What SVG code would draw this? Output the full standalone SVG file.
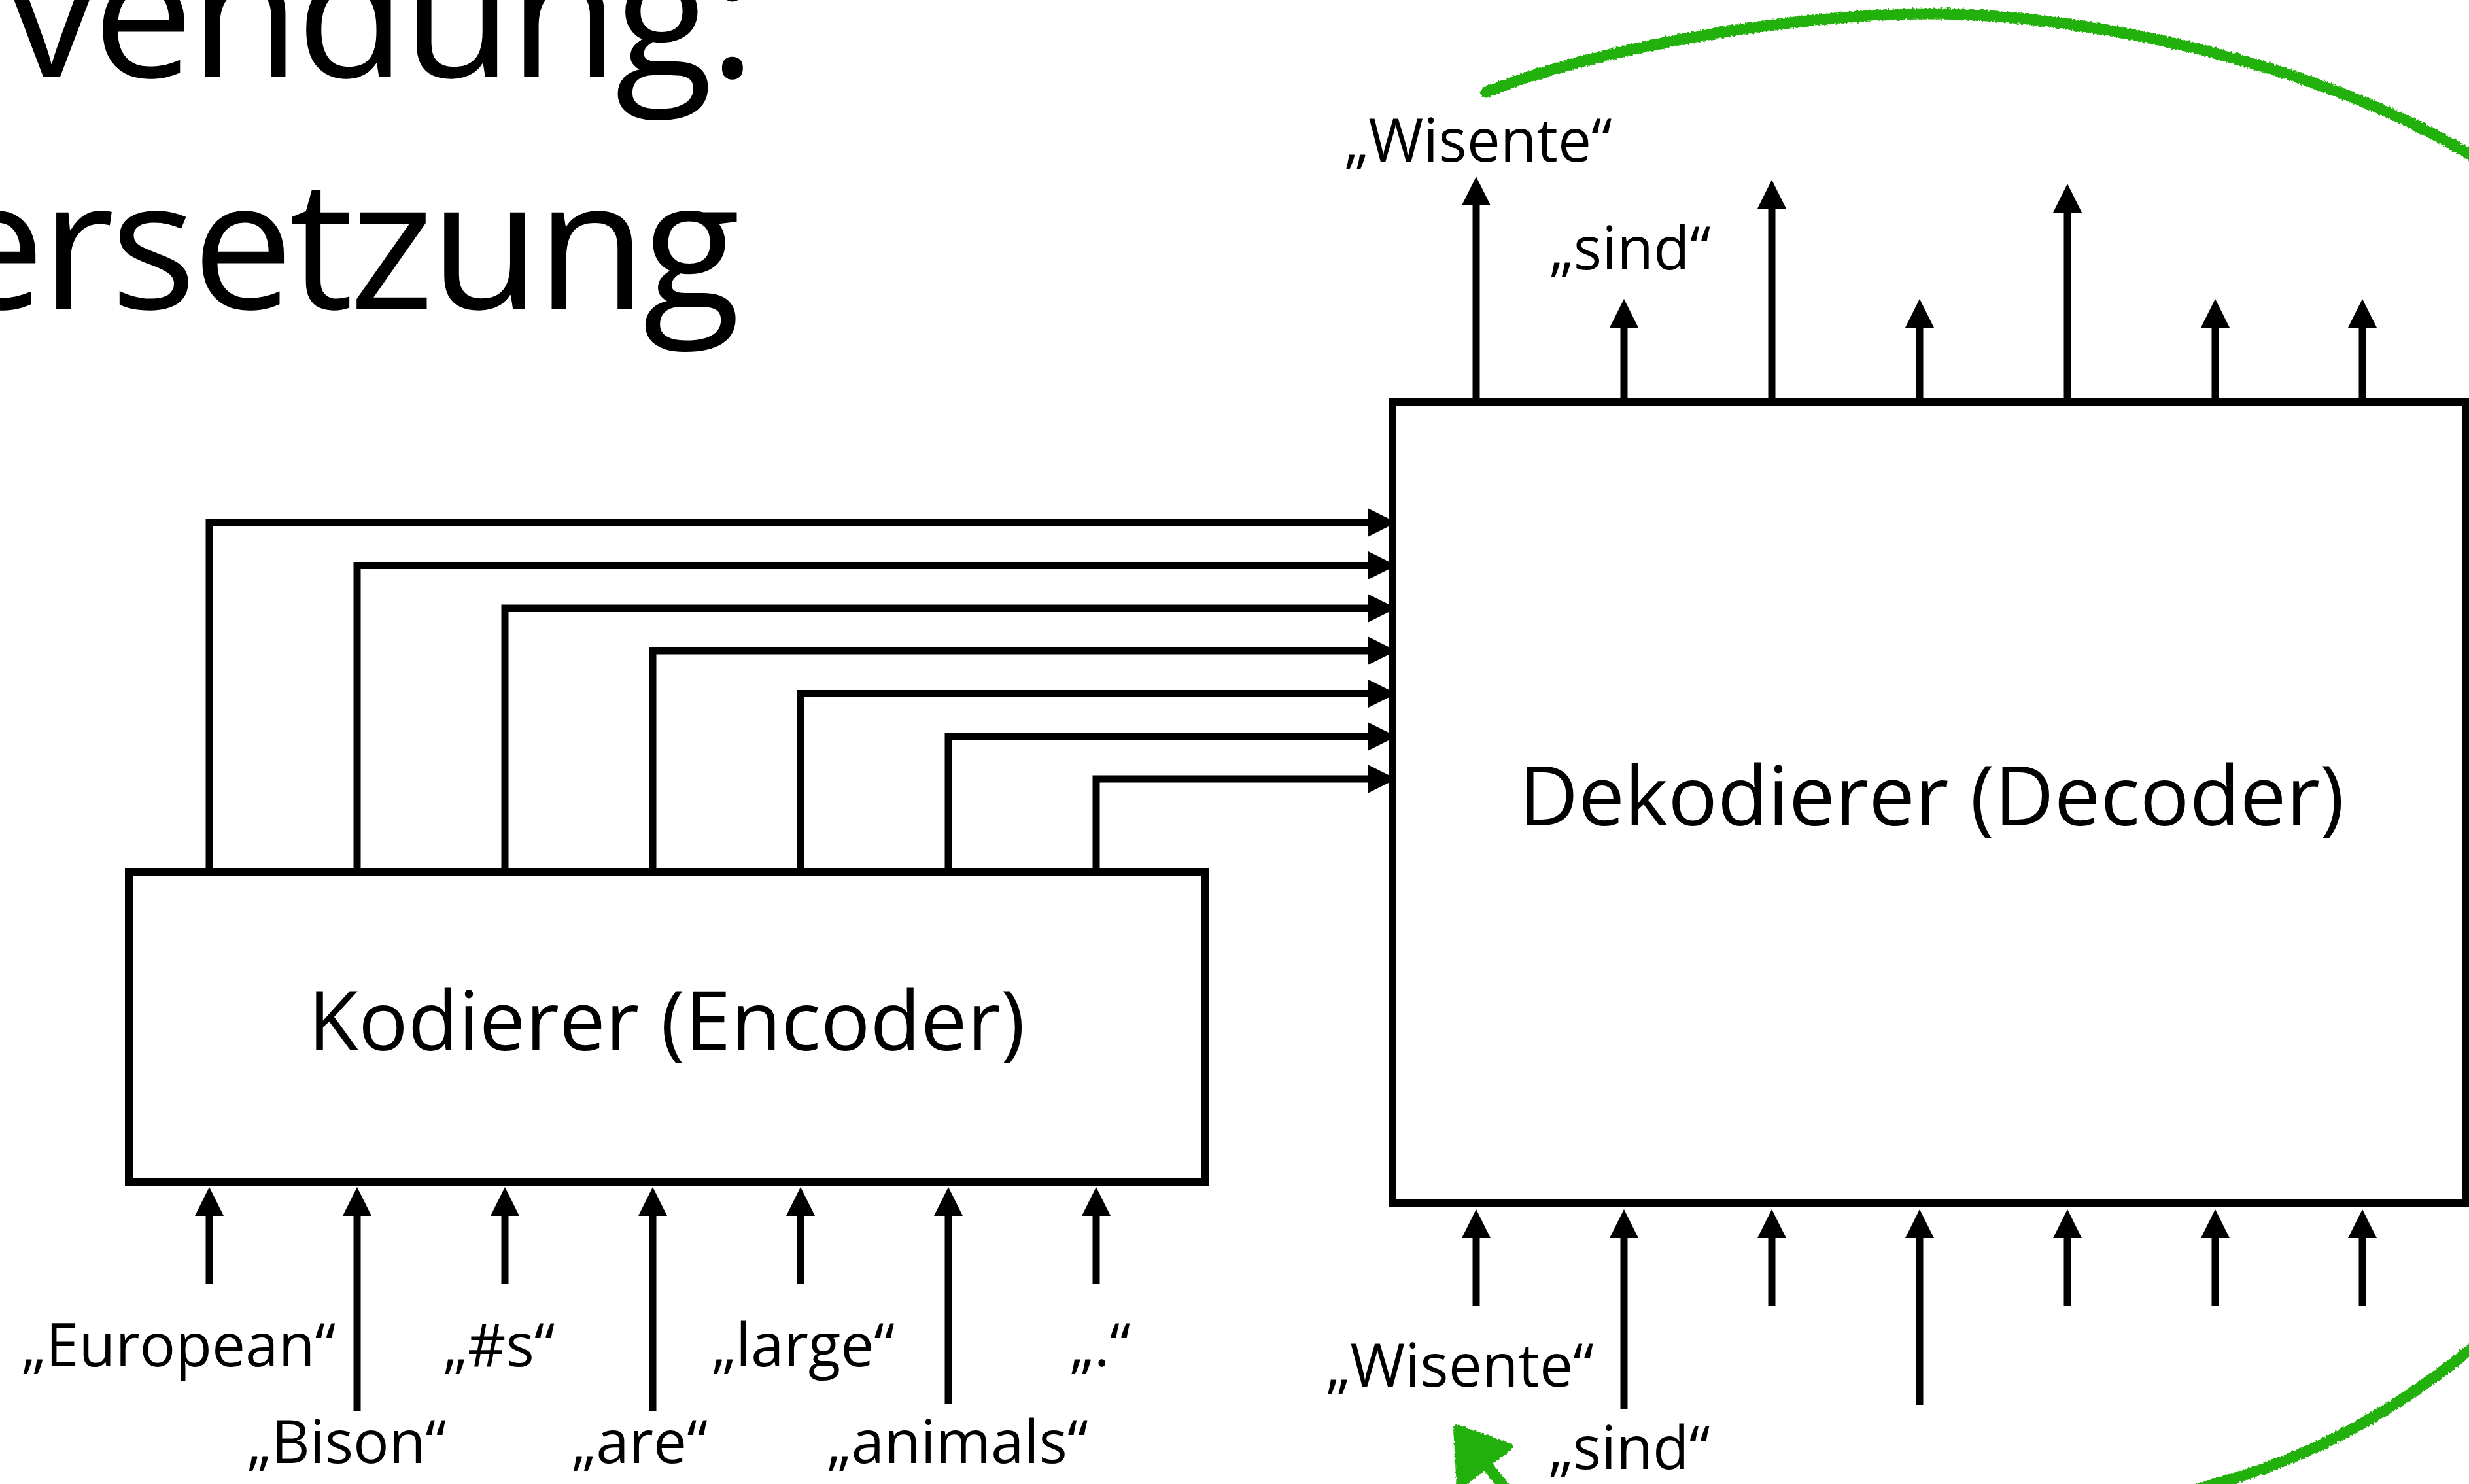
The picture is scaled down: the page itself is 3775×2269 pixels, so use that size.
<svg xmlns="http://www.w3.org/2000/svg" width="3775" height="2269" viewBox="0 0 3775 2269">
  <style>
    text { font-family: "Open Sans", "Noto Sans", sans-serif; fill: #000; }
    .title { font-size: 275px; letter-spacing: -6px; }
    .box { fill: #fff; stroke: #000; stroke-width: 12; }
    .boxlabel { font-size: 126px; text-anchor: middle; }
    .lbl { font-size: 91px; text-anchor: middle; }
    .wire { fill: none; stroke: #000; stroke-width: 11; stroke-linejoin: miter; marker-end: url(#ah); }
    .green { fill: none; stroke: #24b00a; stroke-width: 17; stroke-linecap: round; }
  </style>
  <defs>
    <marker id="ah" markerUnits="userSpaceOnUse" markerWidth="44" markerHeight="44" viewBox="0 0 44 44" refX="1" refY="22" orient="auto">
      <path d="M0,0 L44,22 L0,44 Z" fill="#000"/>
    </marker>
    <filter id="crayon" filterUnits="userSpaceOnUse" x="1900" y="-200" width="2200" height="2700">
      <feTurbulence type="fractalNoise" baseFrequency="0.3" numOctaves="2" seed="3" result="n"/>
      <feDisplacementMap in="SourceGraphic" in2="n" scale="6" xChannelSelector="R" yChannelSelector="G"/>
    </filter>
  </defs>

  <rect width="3775" height="2269" fill="#fff"/>

  <g id="title">
    <text class="title" x="1150" y="118" text-anchor="end">vendung:</text>
    <text class="title" x="1126" y="472" text-anchor="end">ersetzung</text>
  </g>

  <g id="encoder">
    <rect class="box" x="197" y="1333" width="1645" height="474"/>
    <text class="boxlabel" x="1019" y="1606">Kodierer (Encoder)</text>
  </g>

  <g id="decoder">
    <rect class="box" x="2129" y="614" width="1642" height="1226"/>
    <text class="boxlabel" x="2953" y="1262">Dekodierer (Decoder)</text>
  </g>

  <g id="connectors">
    <!-- encoder outputs to decoder -->
    <path class="wire" d="M320 1333 V799 H2092"/>
    <path class="wire" d="M546 1333 V864.5 H2092"/>
    <path class="wire" d="M772 1333 V930 H2092"/>
    <path class="wire" d="M998 1333 V995 H2092"/>
    <path class="wire" d="M1224 1333 V1060.5 H2092"/>
    <path class="wire" d="M1450 1333 V1126 H2092"/>
    <path class="wire" d="M1676 1333 V1191 H2092"/>
    <!-- encoder inputs -->
    <path class="wire" d="M320 1963 V1858"/>
    <path class="wire" d="M546 2157 V1858"/>
    <path class="wire" d="M772 1963 V1858"/>
    <path class="wire" d="M998 2157 V1858"/>
    <path class="wire" d="M1224 1963 V1858"/>
    <path class="wire" d="M1450 2147 V1858"/>
    <path class="wire" d="M1676 1963 V1858"/>
    <!-- decoder inputs -->
    <path class="wire" d="M2257 1997 V1892"/>
    <path class="wire" d="M2483 2154 V1892"/>
    <path class="wire" d="M2709 1997 V1892"/>
    <path class="wire" d="M2935 2148 V1892"/>
    <path class="wire" d="M3161 1997 V1892"/>
    <path class="wire" d="M3387 1997 V1892"/>
    <path class="wire" d="M3612 1997 V1892"/>
    <!-- decoder outputs -->
    <path class="wire" d="M2257 608 V313"/>
    <path class="wire" d="M2483 608 V500"/>
    <path class="wire" d="M2709 608 V318"/>
    <path class="wire" d="M2935 608 V500"/>
    <path class="wire" d="M3161 608 V324"/>
    <path class="wire" d="M3387 608 V500"/>
    <path class="wire" d="M3612 608 V500"/>
  </g>

  <g id="labels">
    <text class="lbl" x="273" y="2089">„European“</text>
    <text class="lbl" x="530" y="2237">„Bison“</text>
    <text class="lbl" x="763" y="2089">„#s“</text>
    <text class="lbl" x="978" y="2237">„are“</text>
    <text class="lbl" x="1228" y="2089">„large“</text>
    <text class="lbl" x="1464" y="2237">„animals“</text>
    <text class="lbl" x="1682" y="2089">„.“</text>
    <text class="lbl" x="2260" y="247">„Wisente“</text>
    <text class="lbl" x="2492" y="412">„sind“</text>
    <text class="lbl" x="2232" y="2120">„Wisente“</text>
    <text class="lbl" x="2491" y="2246">„sind“</text>
  </g>

  <g id="feedback" filter="url(#crayon)">
    <path class="green" d="M2272 141 C2450 70 2750 21 2951 21 C3200 21 3550 100 3776 236 C3900 310 4000 420 4000 700 L4000 1800 C3960 1900 3900 1960 3860 1990 Q3640 2200 3387 2269 C3150 2345 2450 2400 2320 2300 L2250 2210"/>
    <path d="M2227 2183 L2308 2212 L2232 2272 Z" fill="#24b00a" stroke="#24b00a" stroke-width="10" stroke-linejoin="round"/>
  </g>
</svg>
